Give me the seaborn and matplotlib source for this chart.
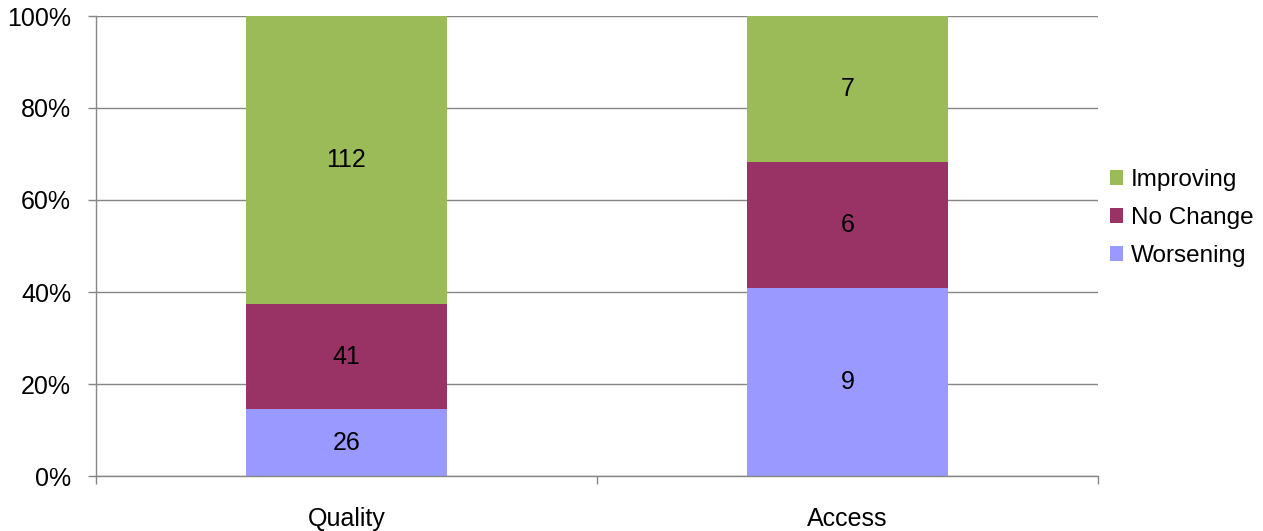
import numpy as np
import pandas as pd
import matplotlib
matplotlib.use("Agg")
import matplotlib.pyplot as plt
from matplotlib.patches import Patch
import seaborn as sns

# Response counts per category
categories = ["Quality", "Access"]
worsening = [26, 9]
no_change = [41, 6]
improving = [112, 7]

series_names = ["Worsening", "No Change", "Improving"]
series_colors = {"Worsening": "#9999FF", "No Change": "#993366", "Improving": "#9BBB59"}

sns.set_theme(style="white")
plt.rcParams["font.family"] = ["Liberation Sans", "DejaVu Sans"]
plt.rcParams["text.color"] = "black"

counts = pd.DataFrame({"Worsening": worsening, "No Change": no_change,
                       "Improving": improving}, index=categories)
shares = counts.div(counts.sum(axis=1), axis=0) * 100
cum = shares.cumsum(axis=1)

fig = plt.figure(figsize=(12.63, 5.31), dpi=100)
ax = fig.add_axes([96 / 1263, 55 / 531, (1098 - 96) / 1263, (476 - 16) / 531])

grid_color = "#868686"
ax.set_axisbelow(True)
ax.yaxis.grid(True, color=grid_color, linewidth=1.0)

# Stacked bars: draw cumulative heights from the top series down
for name in reversed(series_names):
    df = pd.DataFrame({"cat": categories, "val": cum[name].values})
    sns.barplot(data=df, x="cat", y="val", order=categories, color=series_colors[name],
                width=0.4, saturation=1, edgecolor="none", linewidth=0, ax=ax)

# Count labels centred in each segment
for i, cat in enumerate(categories):
    base = 0
    for name in series_names:
        h = shares.loc[cat, name]
        ax.text(i, base + h / 2, f"{counts.loc[cat, name]}", ha="center", va="center",
                fontsize=18, color="black")
        base += h

ax.set_xlim(-0.5, len(categories) - 0.5)
ax.set_ylim(0, 100)
ax.set_yticks(np.arange(0, 101, 20))
ax.set_yticklabels([f"{v}%" for v in range(0, 101, 20)])
ax.set_xlabel("")
ax.set_ylabel("")

for side in ["top", "right"]:
    ax.spines[side].set_visible(False)
for side in ["left", "bottom"]:
    ax.spines[side].set_color(grid_color)
    ax.spines[side].set_linewidth(1.0)

ax.tick_params(axis="y", which="major", direction="out", length=6, width=1.0,
               color=grid_color, left=True, pad=12, labelsize=18, labelcolor="black")
ax.tick_params(axis="x", which="major", length=0, pad=22, labelsize=18, labelcolor="black")
ax.set_xticks(np.arange(-0.5, len(categories), 1.0), minor=True)
ax.tick_params(axis="x", which="minor", direction="out", length=6, width=1.0,
               color=grid_color, bottom=True)

handles = [Patch(facecolor=series_colors[n], edgecolor="none") for n in reversed(series_names)]
fig.legend(handles, list(reversed(series_names)), loc="center left",
           bbox_to_anchor=(1110 / 1263, (531 - 218) / 531), frameon=False,
           fontsize=17.5, labelcolor="black", handlelength=0.55, handleheight=0.55,
           handletextpad=0.3, labelspacing=0.65, borderaxespad=0, borderpad=0)

fig.savefig("out.png", dpi=100)
